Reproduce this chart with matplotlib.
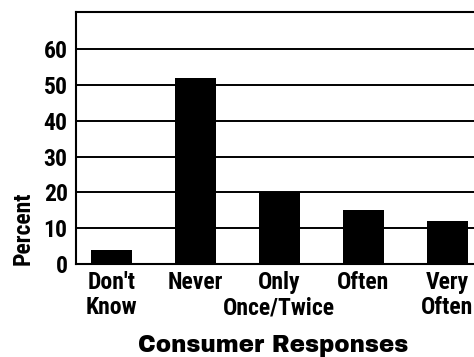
import matplotlib.pyplot as plt
import numpy as np

# respuestas y porcentajes
categorias = ["Don't\nKnow", "Never", "Only\nOnce/Twice", "Often", "Very\nOften"]
porcentajes = [4, 52, 20, 15, 12]
ticks_y = [0, 10, 20, 30, 40, 50, 60]

fig = plt.figure(figsize=(4.74, 3.57), dpi=100)
ax = fig.add_axes([76/474, 1-264/357, 1-76/474, (264-12)/357])

x = np.arange(len(categorias))
ax.bar(x, porcentajes, width=0.49, color="black", zorder=3)

ax.set_ylim(0, 70.4)
ax.set_xlim(-0.42, 4.32)
ax.set_yticks(ticks_y)
ax.yaxis.grid(True, color="black", linewidth=1.4, zorder=1)
ax.set_axisbelow(True)
ax.tick_params(length=0)

fuente = dict(family=["Roboto Condensed", "DejaVu Sans"], weight="bold")
ax.set_yticklabels([str(t) for t in ticks_y], fontsize=17, **fuente)
ax.tick_params(axis="y", pad=6)
ax.set_xticks(x)
ax.set_xticklabels(categorias, fontsize=17, linespacing=1.12, **fuente)
ax.tick_params(axis="x", pad=5)

for s in ["top", "left", "bottom"]:
    ax.spines[s].set_linewidth(1.5)
ax.spines["right"].set_visible(False)

fig.text(23/474, 1-228/357, "Percent", rotation=90, ha="center", va="center",
         fontsize=17, **fuente)
fig.text(273/474, 1-346/357, "Consumer Responses", ha="center", va="center",
         fontsize=16.5, family=["Archivo Black", "DejaVu Sans"])

plt.savefig("out.png")
